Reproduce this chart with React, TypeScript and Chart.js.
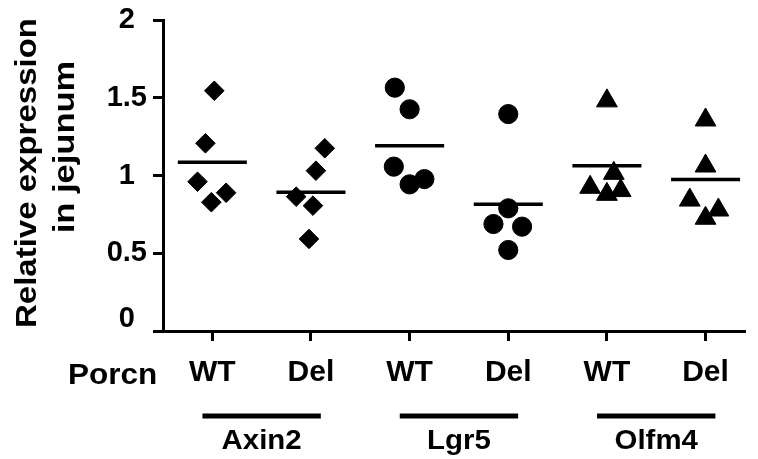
import React, { useEffect, useRef } from 'react';
import { Chart, registerables } from 'chart.js';

Chart.register(...registerables);

// ---- data ----
const conditions = ['WT', 'Del', 'WT', 'Del', 'WT', 'Del'];
const genes = ['Axin2', 'Lgr5', 'Olfm4'];
const rowLabel = 'Porcn';
const yTitle = ['Relative expression', 'in jejunum'];
const yTickValues = [0, 0.5, 1, 1.5, 2];

const axin2WT = [1.545, 1.207, 0.96, 0.889, 0.828];
const axin2Del = [1.175, 1.031, 0.864, 0.806, 0.592];
const lgr5WT = [1.565, 1.426, 1.057, 0.977, 0.943];
const lgr5Del = [1.395, 0.789, 0.688, 0.671, 0.521];
const olfm4WT = [1.48, 1.014, 0.924, 0.879, 0.903];
const olfm4Del = [1.357, 1.061, 0.842, 0.778, 0.725];
const groupMeans = [1.085, 0.892, 1.192, 0.815, 1.063, 0.975];

// horizontal scatter of the dots inside each column (category units)
const jitterAxin2WT = [0.02, -0.07, -0.15, 0.14, -0.01];
const jitterAxin2Del = [0.14, 0.05, -0.15, 0.02, -0.02];
const jitterLgr5WT = [-0.15, 0, -0.16, 0.15, 0];
const jitterLgr5Del = [0, 0, -0.15, 0.14, 0];
const jitterOlfm4WT = [0, 0.07, -0.17, 0, 0.14];
const jitterOlfm4Del = [0, 0, -0.16, 0.13, 0];

const FONT_FAMILY = '"Liberation Sans", Arial, Helvetica, sans-serif';
const INK = '#000000';

function column(values: number[], jitter: number[], pos: number) {
  return values.map((v, i) => ({ x: pos + jitter[i], y: v }));
}

const extraText = {
  id: 'extraText',
  afterDraw(chart: any) {
    const { ctx, scales } = chart;
    const xs = scales.x;
    const area = chart.chartArea;
    ctx.save();
    ctx.fillStyle = INK;
    ctx.strokeStyle = INK;
    ctx.textAlign = 'center';
    ctx.textBaseline = 'alphabetic';

    const drawStretched = (text: string, x: number, y: number, sx: number, rot: number, size: number) => {
      ctx.save();
      ctx.font = `bold ${size}px ${FONT_FAMILY}`;
      ctx.translate(x, y);
      if (rot) ctx.rotate(rot);
      ctx.scale(sx, 1);
      ctx.fillText(text, 0, 0);
      ctx.restore();
    };

    // y axis title (two rotated lines)
    drawStretched(yTitle[0], 36, 173, 1.1, -Math.PI / 2, 30);
    drawStretched(yTitle[1], 74, 147, 1.15, -Math.PI / 2, 30);

    // row label left of the condition ticks
    drawStretched(rowLabel, xs.getPixelForValue(0) - 1, area.bottom + 53, 1.05, 0, 30);

    // gene group underlines and names
    genes.forEach((g, i) => {
      const mid = 1.5 + i * 2;
      const x0 = xs.getPixelForValue(mid - 0.6);
      const x1 = xs.getPixelForValue(mid + 0.6);
      const y = area.bottom + 85;
      ctx.lineWidth = 5;
      ctx.beginPath();
      ctx.moveTo(x0, y);
      ctx.lineTo(x1, y);
      ctx.stroke();
      drawStretched(g, xs.getPixelForValue(mid), area.bottom + 118, 1.05, 0, 28);
    });
    ctx.restore();
  },
};

export default function App() {
  const canvasRef = useRef<HTMLCanvasElement | null>(null);

  useEffect(() => {
    const canvas = canvasRef.current;
    if (!canvas) return;

    const pointBase = {
      backgroundColor: INK,
      borderColor: INK,
      pointBorderWidth: 1,
      showLine: false,
    };

    const meanLines = groupMeans.map((m, i) => ({
      label: `mean ${i + 1}`,
      data: [
        { x: i + 1 - 0.35, y: m },
        { x: i + 1 + 0.35, y: m },
      ],
      showLine: true,
      borderColor: INK,
      borderWidth: 3.5,
      pointRadius: 0,
      fill: false,
    }));

    const chart = new Chart(canvas, {
      type: 'scatter',
      data: {
        datasets: [
          {
            ...pointBase,
            label: genes[0],
            data: [...column(axin2WT, jitterAxin2WT, 1), ...column(axin2Del, jitterAxin2Del, 2)],
            pointStyle: 'rectRot',
            pointRadius: 9.8,
          },
          {
            ...pointBase,
            label: genes[1],
            data: [...column(lgr5WT, jitterLgr5WT, 3), ...column(lgr5Del, jitterLgr5Del, 4)],
            pointStyle: 'circle',
            pointRadius: 9.6,
          },
          {
            ...pointBase,
            label: genes[2],
            data: [...column(olfm4WT, jitterOlfm4WT, 5), ...column(olfm4Del, jitterOlfm4Del, 6)],
            pointStyle: 'triangle',
            pointRadius: 12,
          },
          ...meanLines,
        ] as any,
      },
      options: {
        animation: false,
        responsive: false,
        layout: { padding: { top: 20, right: 0, left: 0, bottom: 0 } },
        plugins: {
          legend: { display: false },
          tooltip: { enabled: false },
        },
        scales: {
          x: {
            type: 'linear',
            min: 0.5,
            max: 6.4,
            afterBuildTicks: (s: any) => {
              s.ticks = conditions.map((_, i) => ({ value: i + 1 }));
            },
            afterFit: (s: any) => {
              s.height = 128;
            },
            ticks: {
              autoSkip: false,
              maxRotation: 0,
              minRotation: 0,
              padding: 14,
              color: INK,
              font: { family: FONT_FAMILY, size: 30, weight: 'bold' },
              callback: (v: any) => conditions[Math.round(Number(v)) - 1] ?? '',
            },
            grid: {
              drawOnChartArea: false,
              drawTicks: true,
              tickLength: 10,
              tickWidth: 3,
              tickColor: INK,
              color: INK,
            },
            border: { display: true, color: INK, width: 3 },
          },
          y: {
            type: 'linear',
            min: 0,
            max: 2,
            afterBuildTicks: (s: any) => {
              s.ticks = yTickValues.map((v) => ({ value: v }));
            },
            afterFit: (s: any) => {
              s.width = 163;
            },
            ticks: {
              crossAlign: 'center',
              padding: 6,
              color: INK,
              font: { family: FONT_FAMILY, size: 29, weight: 'bold', lineHeight: 0.85 },
              // the zero label sits a little above the x axis, as in the figure
              callback: (v: any) => (Number(v) === 0 ? ['0', ''] : String(v)),
            },
            grid: {
              drawOnChartArea: false,
              drawTicks: true,
              tickLength: 10,
              tickWidth: 3,
              tickColor: INK,
              color: INK,
            },
            border: { display: true, color: INK, width: 3 },
          },
        },
      } as any,
      plugins: [extraText],
    });

    return () => chart.destroy();
  }, []);

  return (
    <div style={{ position: 'fixed', left: 0, top: 0, width: 758, height: 459, background: '#ffffff' }}>
      <canvas ref={canvasRef} width={758} height={459} style={{ display: 'block' }} />
    </div>
  );
}
